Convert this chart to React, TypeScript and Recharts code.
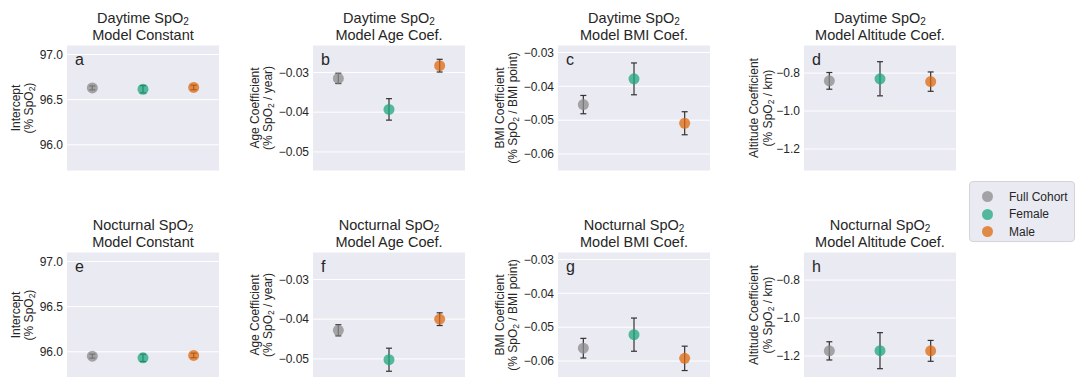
import React from "react";
import { ScatterChart, Scatter, XAxis, YAxis, CartesianGrid, ErrorBar } from "recharts";

const FONT = "'Liberation Sans', Arial, sans-serif";
const TXT = "#262626";

const groups = ["Full Cohort", "Female", "Male"];
const colors = ["#8b8b8b", "#1da77d", "#dd6a0f"];

// daytime model coefficients (Full Cohort, Female, Male) and their errors
const dayConst = [96.63, 96.615, 96.635];
const dayConstErr = [0.022, 0.04, 0.025];
const dayAge = [-0.0315, -0.0393, -0.0283];
const dayAgeErr = [0.0013, 0.0027, 0.0016];
const dayBmi = [-0.0454, -0.0378, -0.0509];
const dayBmiErr = [0.0027, 0.0047, 0.0034];
const dayAlt = [-0.841, -0.83, -0.845];
const dayAltErr = [0.044, 0.09, 0.051];

// nocturnal model coefficients
const nightConst = [95.952, 95.933, 95.96];
const nightConstErr = [0.022, 0.04, 0.025];
const nightAge = [-0.0428, -0.0502, -0.04];
const nightAgeErr = [0.0014, 0.0029, 0.0016];
const nightBmi = [-0.0562, -0.0522, -0.0592];
const nightBmiErr = [0.0029, 0.0049, 0.0036];
const nightAlt = [-1.173, -1.172, -1.173];
const nightAltErr = [0.048, 0.095, 0.055];

const constTicks = [96.0, 96.5, 97.0];
const ageTicks = [-0.05, -0.04, -0.03];
const bmiTicks = [-0.06, -0.05, -0.04, -0.03];
const altTicks = [-1.2, -1.0, -0.8];

const constDomain = [95.71, 97.105];
const ageDomain = [-0.0548, -0.0231];
const bmiDomain = [-0.065, -0.0278];
const altDomain = [-1.316, -0.652];

const rowNames = ["Daytime SpO", "Nocturnal SpO"];
const colTitles = ["Model Constant", "Model Age Coef.", "Model BMI Coef.", "Model Altitude Coef."];
const yLabel1 = ["Intercept", "Age Coefficient", "BMI Coefficient", "Altitude Coefficient"];
const yLabel2 = [")", " / year)", " / BMI point)", " / km)"];
const letters = [
  ["a", "b", "c", "d"],
  ["e", "f", "g", "h"],
];

const COL_LEFT = [67, 313, 558, 804];
const ROW_TOP = [45, 252];
const PLOT_W = 152;
const PLOT_H = 126;
const AXIS_W = 50;
const LABEL_X = [
  [-51, -38],
  [-58, -45],
  [-58, -45],
  [-50, -36],
];

const cols = [
  { ticks: constTicks, domain: constDomain, digits: 1 },
  { ticks: ageTicks, domain: ageDomain, digits: 2 },
  { ticks: bmiTicks, domain: bmiDomain, digits: 2 },
  { ticks: altTicks, domain: altDomain, digits: 1 },
];
const values = [
  [dayConst, dayAge, dayBmi, dayAlt],
  [nightConst, nightAge, nightBmi, nightAlt],
];
const errors = [
  [dayConstErr, dayAgeErr, dayBmiErr, dayAltErr],
  [nightConstErr, nightAgeErr, nightBmiErr, nightAltErr],
];

function Panel({ left, top, vals, errs, col }: any) {
  return (
    <div style={{ position: "absolute", left: left - AXIS_W, top }}>
      <ScatterChart width={AXIS_W + PLOT_W} height={PLOT_H} margin={{ top: 0, right: 0, bottom: 0, left: 0 }}>
        <CartesianGrid vertical={false} stroke="#ffffff" strokeWidth={1} fill="#EAEAF2" fillOpacity={1} />
        <XAxis type="number" dataKey="x" domain={[-0.5, 2.5]} hide />
        <YAxis
          type="number"
          dataKey="y"
          domain={col.domain}
          ticks={col.ticks}
          allowDataOverflow
          interval={0}
          width={AXIS_W}
          axisLine={false}
          tickLine={false}
          tickSize={3}
          tickMargin={1}
          tick={{ fontSize: 12, fill: TXT, fontFamily: FONT }}
          tickFormatter={(v: number) => v.toFixed(col.digits).replace("-", "\u2212")}
        />
        {groups.map((g, i) => (
          <Scatter
            key={g}
            name={g}
            data={[{ x: i, y: vals[i], err: errs[i] }]}
            isAnimationActive={false}
            shape={(p: any) => <circle cx={p.cx} cy={p.cy} r={5.5} fill={colors[i]} fillOpacity={0.75} />}
          >
            <ErrorBar dataKey="err" direction="y" width={3} stroke="#333333" strokeWidth={1.2} isAnimationActive={false} />
          </Scatter>
        ))}
      </ScatterChart>
    </div>
  );
}

export default function App() {
  return (
    <div style={{ position: "absolute", left: 0, top: 0, width: 1077, height: 377, background: "#fff", fontFamily: FONT, overflow: "hidden" }}>
      {ROW_TOP.map((top, r) =>
        COL_LEFT.map((left, c) => (
          <Panel key={`${r}-${c}`} left={left} top={top} vals={values[r][c]} errs={errors[r][c]} col={cols[c]} />
        ))
      )}
      <svg width={1077} height={377} style={{ position: "absolute", left: 0, top: 0, pointerEvents: "none" }} fontFamily={FONT} fill={TXT}>
        {ROW_TOP.map((top, r) =>
          COL_LEFT.map((left, c) => {
            const cx = left + PLOT_W / 2;
            const cy = top + PLOT_H / 2;
            return (
              <g key={`t${r}-${c}`}>
                <text x={cx} y={top - 22.5} textAnchor="middle" fontSize={14.5}>
                  {rowNames[r]}
                  <tspan fontSize={10} dy={2.5}>2</tspan>
                </text>
                <text x={cx} y={top - 5} textAnchor="middle" fontSize={14.5}>
                  {colTitles[c]}
                </text>
                <g transform={`translate(${left + LABEL_X[c][0]}, ${cy}) rotate(-90)`}>
                  <text textAnchor="middle" dominantBaseline="central" fontSize={12}>
                    {yLabel1[c]}
                  </text>
                </g>
                <g transform={`translate(${left + LABEL_X[c][1]}, ${cy}) rotate(-90)`}>
                  <text textAnchor="middle" dominantBaseline="central" fontSize={12}>
                    (% SpO
                    <tspan fontSize={8.5} dy={2.5}>2</tspan>
                    <tspan dy={-2.5}>{yLabel2[c]}</tspan>
                  </text>
                </g>
                <text x={left + 8} y={top + 20} fontSize={16}>
                  {letters[r][c]}
                </text>
              </g>
            );
          })
        )}
      </svg>
      <div
        style={{
          position: "absolute",
          left: 969,
          top: 181,
          width: 104,
          height: 59,
          background: "#EAEAF2",
          border: "1px solid #d4d4d8",
          borderRadius: 4,
        }}
      >
        {groups.map((g, i) => (
          <div key={g} style={{ position: "absolute", left: 0, top: 6 + i * 17.5, height: 17, display: "flex", alignItems: "center" }}>
            <span
              style={{
                position: "absolute",
                left: 12,
                width: 11,
                height: 11,
                borderRadius: "50%",
                background: colors[i],
                opacity: 0.75,
              }}
            />
            <span style={{ position: "absolute", left: 39, fontSize: 12, color: TXT, whiteSpace: "nowrap" }}>{g}</span>
          </div>
        ))}
      </div>
    </div>
  );
}
